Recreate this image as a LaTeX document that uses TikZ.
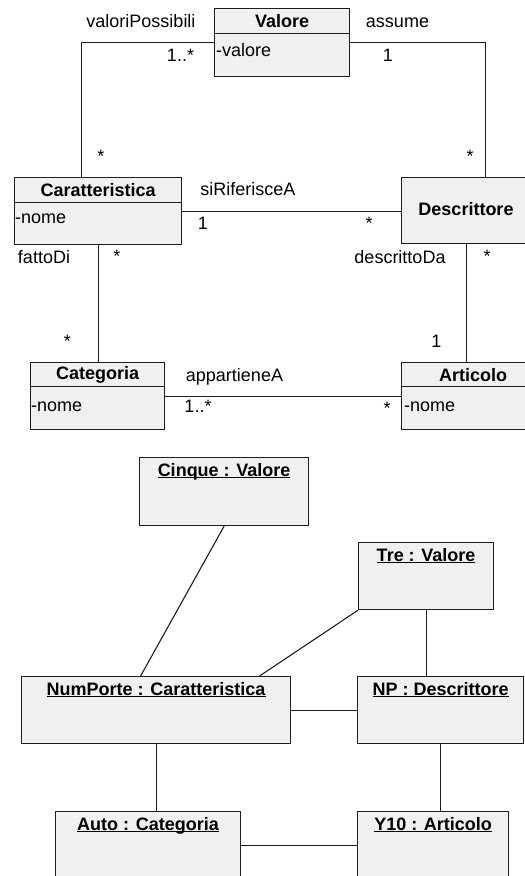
\documentclass[tikz,border=0pt]{standalone}
\usepackage{fontspec}
\setmainfont{Liberation Sans}
\usepackage{tikz}
\usepackage{xcolor}
\usetikzlibrary{positioning}
\definecolor{boxfill}{HTML}{F0F0F0}
\definecolor{boxline}{HTML}{1E1E1E}
\newcommand{\objtitle}[1]{\underline{\smash{\textbf{#1}}}}
\tikzset{
    class-box/.style = {draw=boxline, fill=boxfill, line width=1.2pt, rectangle, anchor=north west, inner sep=0pt},
    class-title/.style = {draw=boxline, line width=1.2pt, rectangle, anchor=north, inner sep=0pt, font=\fontsize{18}{21}\selectfont\bfseries},
    class-attr/.style = {anchor=base west, inner sep=0pt},
    object-box/.style = {draw=boxline, fill=boxfill, line width=1.2pt, rectangle, anchor=north west, inner sep=0pt},
    object-title/.style = {anchor=base, inner sep=0pt},
    role/.style = {anchor=base, inner sep=0pt},
    assoc/.style = {draw=boxline, line width=1.1pt},
}

\begin{document}
\begin{tikzpicture}[x=1pt, y=-1pt, font=\fontsize{18}{21}\selectfont]
\useasboundingbox (0,0) rectangle (525,876);

\node[class-box, minimum width=135pt, minimum height=68pt] (valore) at (214,8) {};
\node[class-title, minimum width=135pt, minimum height=25pt] (valore-title) at (valore.north) {Valore};
\node[class-attr] (valore-attr) at (216,56.5) {-valore};

\node[class-box, minimum width=167pt, minimum height=67pt] (caratteristica) at (14,177) {};
\node[class-title, minimum width=167pt, minimum height=25pt] (caratteristica-title) at (caratteristica.north) {Caratteristica};
\node[class-attr] (caratteristica-attr) at (15,223) {-nome};

\node[class-box, minimum width=130pt, minimum height=66pt] (descrittore) at (401,177) {};
\node[inner sep=0pt, anchor=base, font=\fontsize{18}{21}\selectfont\bfseries] (descrittore-title) at (466,215.5) {Descrittore};

\node[class-box, minimum width=134pt, minimum height=67pt] (categoria) at (30,362) {};
\node[class-title, minimum width=134pt, minimum height=24pt] (categoria-title) at (categoria.north) {Categoria};
\node[class-attr] (categoria-attr) at (31,411) {-nome};

\node[class-box, minimum width=143pt, minimum height=67pt] (articolo) at (401,362) {};
\node[class-title, minimum width=143pt, minimum height=24pt] (articolo-title) at (articolo.north) {Articolo};
\node[class-attr] (articolo-attr) at (404,411) {-nome};

\draw[assoc] (valore.west) -| ([xshift=-16.5pt]caratteristica.north);
\draw[assoc] (valore.east) -| ([xshift=19pt]descrittore.north);
\draw[assoc] (caratteristica.east) -- (caratteristica.east -| descrittore.west);
\draw[assoc] (caratteristica.south) -- (caratteristica.south |- categoria.north);
\draw[assoc] (descrittore.south) -- (descrittore.south |- articolo.north);
\draw[assoc] (categoria.east) -- (categoria.east -| articolo.west);

\node[role] (valori-possibili) at (141,27.5) {valoriPossibili};
\node[role] (valori-mult) at (180.5,61.5) {1..*};
\node[role] (assume) at (397.5,27.5) {assume};
\node[role] (assume-mult) at (388,61.5) {1};
\node[role] (car-valori-mult) at (101,162) {*};
\node[role] (desc-valore-mult) at (470,162) {*};
\node[role] (si-riferisce) at (248,195) {siRiferisceA};
\node[role] (si-riferisce-mult) at (203,229) {1};
\node[role] (desc-car-mult) at (369,229) {*};
\node[role] (fatto-di) at (44,263.5) {fattoDi};
\node[role] (fatto-di-mult) at (117,262) {*};
\node[role] (descritto-da) at (400,263.5) {descrittoDa};
\node[role] (descritto-da-mult) at (487,262) {*};
\node[role] (cat-car-mult) at (67.5,347) {*};
\node[role] (art-desc-mult) at (436.5,347) {1};
\node[role] (appartiene) at (234.5,381) {appartieneA};
\node[role] (appartiene-mult) at (198,412) {1..*};
\node[role] (art-cat-mult) at (387,414.5) {*};

\node[object-box, minimum width=169pt, minimum height=68pt] (obj-cinque) at (139,457) {};
\node[object-title] (obj-cinque-title) at ([yshift=-19pt]obj-cinque.north) {\objtitle{Cinque : Valore}};

\node[object-box, minimum width=135pt, minimum height=67pt] (obj-tre) at (358,542) {};
\node[object-title] (obj-tre-title) at ([yshift=-19pt]obj-tre.north) {\objtitle{Tre : Valore}};

\node[object-box, minimum width=269pt, minimum height=67pt] (obj-numporte) at (21,676) {};
\node[object-title] (obj-numporte-title) at ([yshift=-19pt]obj-numporte.north) {\objtitle{NumPorte : Caratteristica}};

\node[object-box, minimum width=166pt, minimum height=67pt] (obj-np) at (357,676) {};
\node[object-title] (obj-np-title) at ([yshift=-19pt]obj-np.north) {\objtitle{NP : Descrittore}};

\node[object-box, minimum width=185pt, minimum height=67pt] (obj-auto) at (55,811) {};
\node[object-title] (obj-auto-title) at ([yshift=-19pt]obj-auto.north) {\objtitle{Auto : Categoria}};

\node[object-box, minimum width=151pt, minimum height=67pt] (obj-y10) at (357,811) {};
\node[object-title] (obj-y10-title) at ([yshift=-19pt]obj-y10.north) {\objtitle{Y10 : Articolo}};

\draw[assoc] (obj-cinque.south) -- ([xshift=-15.5pt]obj-numporte.north);
\draw[assoc] (obj-tre.south west) -- ([xshift=103.5pt]obj-numporte.north);
\draw[assoc] (obj-tre.south) -- (obj-tre.south |- obj-np.north);
\draw[assoc] (obj-numporte.east) -- (obj-numporte.east -| obj-np.west);
\draw[assoc] (obj-numporte.south) -- (obj-numporte.south |- obj-auto.north);
\draw[assoc] (obj-np.south) -- (obj-np.south |- obj-y10.north);
\draw[assoc] (obj-auto.east) -- (obj-auto.east -| obj-y10.west);
\end{tikzpicture}
\end{document}
